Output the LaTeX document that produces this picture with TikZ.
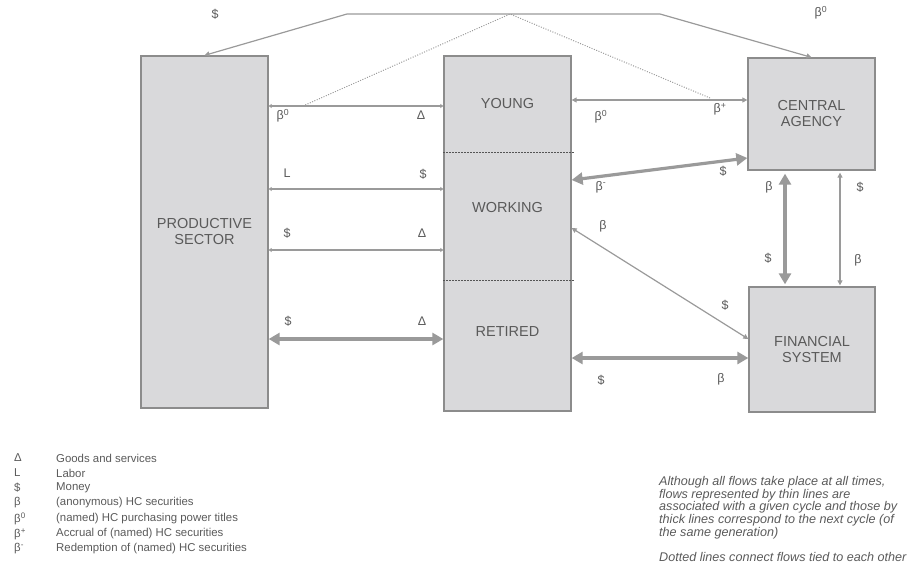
\documentclass[tikz,border=0pt]{standalone}
\usepackage{fontspec}
\setmainfont{Liberation Sans}
\usetikzlibrary{arrows.meta,calc}
\definecolor{boxfill}{HTML}{D9D9DB}
\definecolor{boxline}{HTML}{8C8C8C}
\definecolor{flow}{HTML}{9A9A9A}
\definecolor{txt}{HTML}{5A5A5A}
\definecolor{sep}{HTML}{555555}
\begin{document}
\begin{tikzpicture}[x=1pt,y=-1pt,
  box/.style={draw=boxline,fill=boxfill,line width=1.3pt,inner sep=0pt,align=center,text=txt,font=\fontsize{14.5}{16}\selectfont},
  rowlabel/.style={inner sep=0pt,text=txt,font=\fontsize{14.5}{16}\selectfont},
  thinflow/.style={draw=flow,line width=1.2pt,{Triangle[length=5pt,width=5pt]}-{Triangle[length=5pt,width=5pt]}},
  tinyflow/.style={draw=flow,line width=1.2pt,{Triangle[length=3pt,width=4pt]}-{Triangle[length=3pt,width=4pt]}},
  thickflow/.style={draw=flow,line width=3.2pt,{Triangle[length=11pt,width=12pt]}-{Triangle[length=11pt,width=12pt]}},
  lbl/.style={text=txt,font=\fontsize{12.5}{14}\selectfont,inner sep=0pt},
  tiedots/.style={draw=flow,line width=1pt,dash pattern=on 1pt off 1.5pt},
  sepdots/.style={draw=sep,line width=0.9pt,dash pattern=on 1.5pt off 1.5pt},
  legsym/.style={anchor=west,text=txt,font=\fontsize{11.4}{13}\selectfont,inner sep=0pt},
  legtxt/.style={anchor=west,text=txt,font=\fontsize{11.4}{13}\selectfont,inner sep=0pt},
  note/.style={anchor=north west,text=txt,align=left,font=\fontsize{12.6}{12.7}\selectfont\itshape,inner sep=0pt},
]
\useasboundingbox (0,0) rectangle (913,573);

% boxes
\node[box,minimum width=127pt,minimum height=352pt] (ps) at (204.5,232) {PRODUCTIVE\\SECTOR};
\node[box,minimum width=127pt,minimum height=355pt] (col) at (507.5,233.5) {};
\node[box,minimum width=127pt,minimum height=112pt] (ca) at (811.5,114) {CENTRAL\\AGENCY};
\node[box,minimum width=126pt,minimum height=125pt] (fs) at (812,349.5) {FINANCIAL\\SYSTEM};

\node[rowlabel] (young) at (507.5,104) {YOUNG};
\node[rowlabel] (working) at (507.5,208) {WORKING};
\node[rowlabel] (retired) at (507.5,332) {RETIRED};

\draw[sepdots] (col.west |- 0,152) -- ($(col.east |- 0,152)+(2,0)$);
\draw[sepdots] (col.west |- 0,280) -- ($(col.east |- 0,280)+(2,0)$);

% dotted tie line
\coordinate (tieA) at (303,106);
\coordinate (tieTop) at (510,14);
\coordinate (tieB) at (710,98);
\draw[tiedots] (tieA) -- (tieTop) -- (tieB);

% top money / beta0 line
\draw[thinflow] (ca.north) -- (660,14) -- (347,14) -- (ps.north);
\node[lbl] (ltopS) at (215,14) {\$};
\node[lbl] (ltopB) at (821,13) {β\textsuperscript{0}};

% productive sector <-> generations
\draw[tinyflow] (ps.east |- 0,106) -- (col.west |- 0,106);
\draw[tinyflow] (ps.east |- 0,189) -- (col.west |- 0,189);
\draw[tinyflow] (ps.east |- 0,250) -- (col.west |- 0,250);
\draw[thickflow] (ps.east |- 0,339) -- (col.west |- 0,339);

\node[lbl] (l1a) at (283,116) {β\textsuperscript{0}};
\node[lbl] (l1b) at (421,115) {Δ};
\node[lbl] (l2a) at (287,173) {L};
\node[lbl] (l2b) at (423,174) {\$};
\node[lbl] (l3a) at (287,233) {\$};
\node[lbl] (l3b) at (422,233) {Δ};
\node[lbl] (l4a) at (288,321) {\$};
\node[lbl] (l4b) at (422,321) {Δ};

% generations <-> central agency / financial system
\draw[thinflow] (col.east |- 0,100) -- (ca.west |- 0,100);
\draw[thickflow] (col.east |- 0,180) -- (ca.west |- 0,158);
\draw[thinflow] (col.east |- 0,228) -- (fs.west |- 0,339);
\draw[thickflow] (col.east |- 0,358) -- (fs.west |- 0,358);

\node[lbl] (l5a) at (601,117) {β\textsuperscript{0}};
\node[lbl] (l5b) at (720,109) {β\textsuperscript{+}};
\node[lbl] (l6a) at (601,187) {β\textsuperscript{-}};
\node[lbl] (l6b) at (723,171) {\$};
\node[lbl] (l7a) at (603,226) {β};
\node[lbl] (l7b) at (725,305) {\$};
\node[lbl] (l8a) at (601,380) {\$};
\node[lbl] (l8b) at (721,379) {β};

% central agency <-> financial system
\draw[thickflow,shorten <=3pt,shorten >=2pt] (ca.south -| 785,0) -- (fs.north -| 785,0);
\draw[thinflow,shorten <=2pt,shorten >=1pt] (ca.south -| 840,0) -- (fs.north -| 840,0);
\node[lbl] (l9a) at (769,187) {β};
\node[lbl] (l9b) at (768,258) {\$};
\node[lbl] (l10a) at (860,187) {\$};
\node[lbl] (l10b) at (858,260) {β};

% legend
\node[legsym] (s1) at (14,458) {Δ};
\node[legsym] (s2) at (14,473) {L};
\node[legsym] (s3) at (14,488) {\$};
\node[legsym] (s4) at (14,503) {β};
\node[legsym] (s5) at (14,518.5) {β\textsuperscript{0}};
\node[legsym] (s6) at (14,534) {β\textsuperscript{+}};
\node[legsym] (s7) at (14,549) {β\textsuperscript{-}};
\node[legtxt] (t1) at (56,458) {Goods and services};
\node[legtxt] (t2) at (56,473) {Labor};
\node[legtxt] (t3) at (56,488) {Money};
\node[legtxt] (t4) at (56,503) {(anonymous) HC securities};
\node[legtxt] (t5) at (56,518.5) {(named) HC purchasing power titles};
\node[legtxt] (t6) at (56,534) {Accrual of (named) HC securities};
\node[legtxt] (t7) at (56,549) {Redemption of (named) HC securities};

\node[note] (n1) at (659,476) {Although all flows take place at all times,\\flows represented by thin lines are\\associated with a given cycle and those by\\thick lines correspond to the next cycle (of\\the same generation)\\[12.7pt]Dotted lines connect flows tied to each other};
\end{tikzpicture}
\end{document}
